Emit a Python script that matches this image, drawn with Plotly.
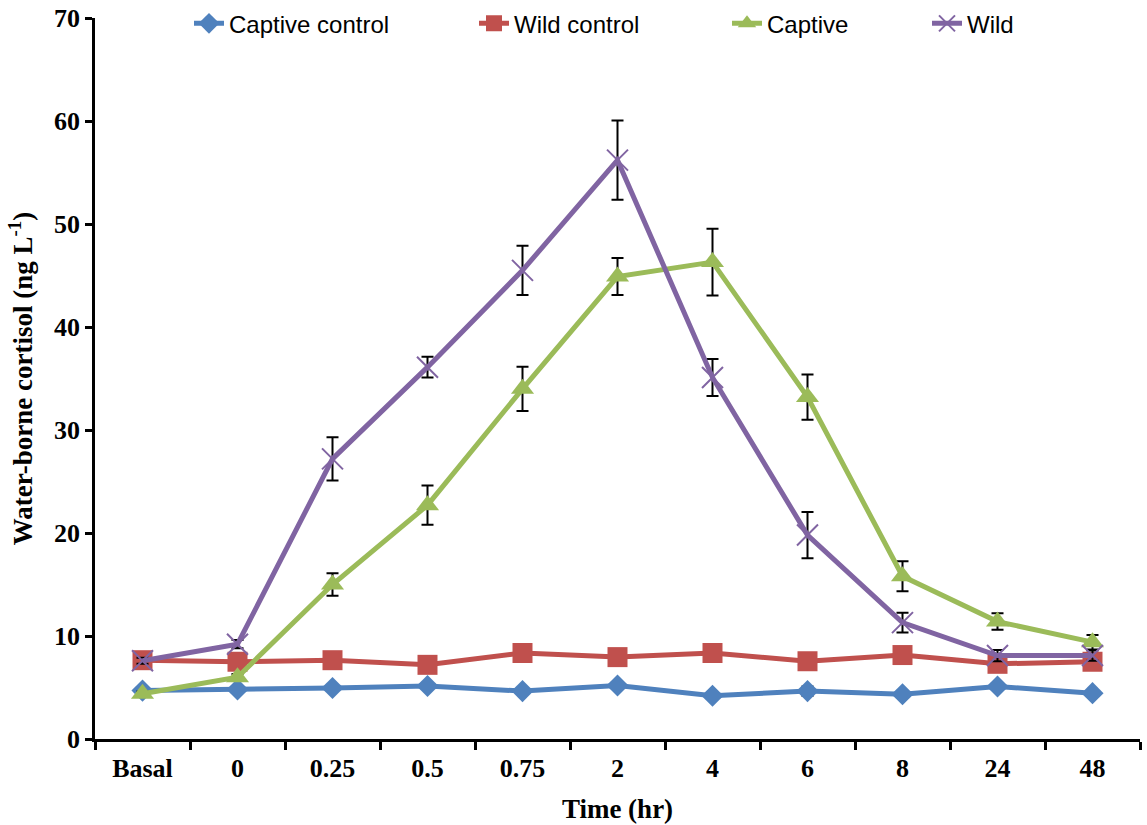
import plotly.graph_objects as go

categories = ["Basal", "0", "0.25", "0.5", "0.75", "2", "4", "6", "8", "24", "48"]

captive_control = [4.7, 4.8, 4.95, 5.15, 4.65, 5.2, 4.2, 4.65, 4.35, 5.1, 4.45]
captive_control_err = [0.2, 0.2, 0.2, 0.2, 0.2, 0.2, 0.2, 0.45, 0.2, 0.2, 0.2]

wild_control = [7.65, 7.5, 7.65, 7.2, 8.35, 7.95, 8.35, 7.55, 8.15, 7.3, 7.5]
wild_control_err = [0.2, 0.2, 0.2, 0.2, 0.2, 0.2, 0.2, 0.2, 0.2, 0.2, 0.2]

captive = [4.4, 6.0, 15.0, 22.7, 34.0, 44.9, 46.3, 33.2, 15.8, 11.4, 9.4]
captive_err = [0.2, 0.3, 1.1, 1.9, 2.15, 1.8, 3.25, 2.2, 1.45, 0.8, 0.7]

wild = [7.6, 9.2, 27.2, 36.1, 45.5, 56.2, 35.1, 19.8, 11.3, 8.1, 8.1]
wild_err = [0.3, 0.4, 2.1, 1.0, 2.4, 3.85, 1.8, 2.25, 0.95, 0.55, 0.5]

series = [
    ("Captive control", captive_control, captive_control_err, "#4F81BD", "diamond", 17, "legend"),
    ("Wild control", wild_control, wild_control_err, "#C0504D", "square", 20, "legend2"),
    ("Captive", captive, captive_err, "#9BBB59", "triangle-up", 20, "legend3"),
    ("Wild", wild, wild_err, "#8064A2", "x-thin", 21, "legend4"),
]

fig = go.Figure()
for name, vals, errs, color, sym, size, leg in series:
    marker = dict(symbol=sym, size=size, color=color)
    if sym == "x-thin":
        marker["line"] = dict(width=2, color=color)
    fig.add_trace(go.Scatter(
        x=categories, y=vals, name=name, mode="lines+markers",
        line=dict(color=color, width=5),
        marker=marker,
        error_y=dict(type="data", array=errs, visible=True,
                     color="black", thickness=2, width=6),
        legend=leg,
    ))

tick_font = dict(family="Liberation Serif, Times New Roman, serif", size=26,
                 color="black", weight="bold")
title_font = dict(family="Liberation Serif, Times New Roman, serif", size=27,
                  color="black", weight="bold")
legend_font = dict(family="Liberation Sans, Arial, sans-serif", size=24, color="black")

PL, PR = 95, 1140
W = PR - PL

def px2paper(px):
    return (px - PL) / W

leg_common = dict(orientation="h", yanchor="middle", y=0.992, xanchor="left",
                  font=legend_font, bgcolor="rgba(0,0,0,0)", borderwidth=0)

fig.update_layout(
    width=1147, height=825,
    margin=dict(l=95, r=7, t=18, b=86, autoexpand=False),
    paper_bgcolor="white", plot_bgcolor="white",
    showlegend=True,
    legend=dict(x=px2paper(189), **leg_common),
    legend2=dict(x=px2paper(474), **leg_common),
    legend3=dict(x=px2paper(727), **leg_common),
    legend4=dict(x=px2paper(927), **leg_common),
    xaxis=dict(
        type="category", range=[-0.5, 10.5], automargin=False,
        showline=True, linecolor="black", linewidth=2.5, mirror=False,
        ticks="outside", tickson="boundaries", ticklen=8, tickwidth=2.5,
        tickcolor="black", showgrid=False, zeroline=False,
        tickfont=tick_font, ticklabelstandoff=4,
        title=dict(text="Time (hr)", font=title_font, standoff=18),
    ),
    yaxis=dict(
        range=[0, 70], dtick=10, tick0=0, automargin=False,
        showline=True, linecolor="black", linewidth=2.5,
        ticks="outside", ticklen=7, tickwidth=2.5, tickcolor="black",
        showgrid=False, zeroline=False,
        tickfont=tick_font,
        title=dict(text="Water-borne cortisol (ng L<sup>-1</sup>)", font=title_font, standoff=14),
    ),
)

fig.write_html("out.html")
